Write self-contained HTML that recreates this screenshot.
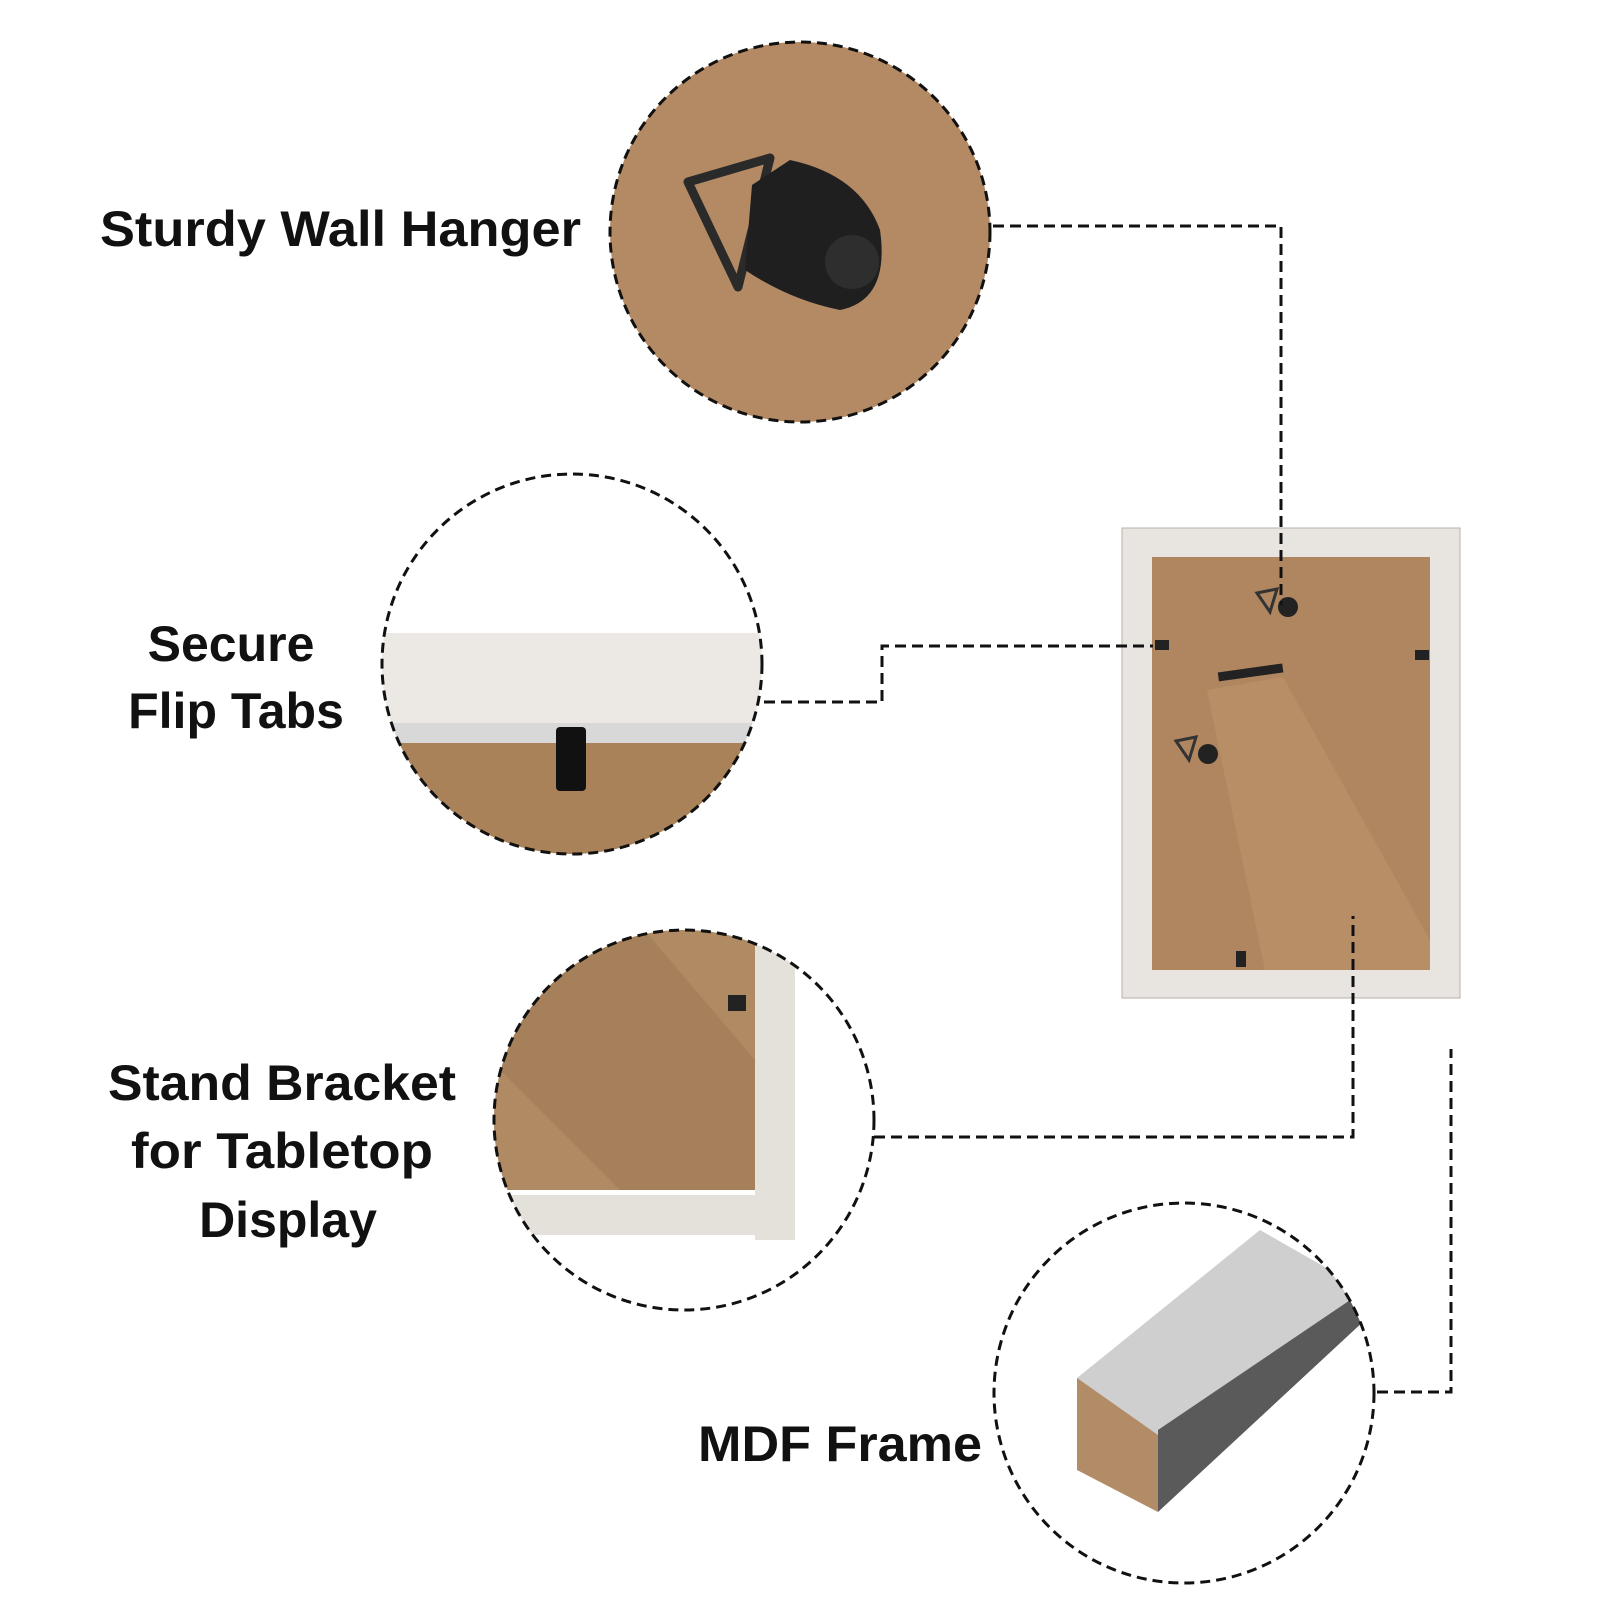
<!DOCTYPE html>
<html><head><style>html,body{margin:0;padding:0;background:#fff}svg{display:block}</style></head>
<body>
<svg width="1601" height="1601" viewBox="0 0 1601 1601" xmlns="http://www.w3.org/2000/svg">
<defs>
<clipPath id="c1"><circle cx="800" cy="232" r="190"/></clipPath>
<clipPath id="c2"><circle cx="572" cy="664" r="190"/></clipPath>
<clipPath id="c3"><circle cx="684" cy="1120" r="190"/></clipPath>
<clipPath id="c4"><circle cx="1184" cy="1393" r="190"/></clipPath>
</defs>
<!-- circle 1 -->
<g clip-path="url(#c1)">
<rect x="600" y="30" width="410" height="410" fill="#b38a63"/>
<path d="M688,182 L770,158 L738,287 Z" fill="none" stroke="#2a2a2a" stroke-width="9" stroke-linejoin="round"/>
<path d="M752,185 L790,160 Q860,175 880,230 Q890,300 840,310 Q790,300 745,270 Z" fill="#1f1f1f"/>
<circle cx="852" cy="262" r="27" fill="#2e2e2e"/>
</g>
<circle cx="800" cy="232" r="190" fill="none" stroke="#111" stroke-width="3" stroke-dasharray="10 6"/>
<!-- circle 2 -->
<g clip-path="url(#c2)">
<rect x="380" y="470" width="400" height="400" fill="#fff"/>
<rect x="380" y="633" width="400" height="90" fill="#ece9e4"/>
<rect x="380" y="723" width="400" height="20" fill="#d8d8d8"/>
<rect x="380" y="743" width="400" height="130" fill="#a98259"/>
<rect x="556" y="727" width="30" height="64" rx="4" fill="#111"/>
</g>
<circle cx="572" cy="664" r="190" fill="none" stroke="#111" stroke-width="3" stroke-dasharray="10 6"/>
<!-- circle 3 -->
<g clip-path="url(#c3)">
<rect x="490" y="925" width="400" height="400" fill="#fff"/>
<rect x="490" y="925" width="265" height="265" fill="#a6805a"/>
<path d="M640,925 L755,1060 L755,925 Z" fill="#b08a62"/>
<path d="M490,1060 L620,1190 L490,1190 Z" fill="#b08a62"/>
<rect x="755" y="940" width="40" height="300" fill="#e4e0da"/>
<rect x="490" y="1195" width="305" height="40" fill="#e4e0da"/>
<rect x="728" y="995" width="18" height="16" fill="#222"/>
</g>
<circle cx="684" cy="1120" r="190" fill="none" stroke="#111" stroke-width="3" stroke-dasharray="10 6"/>
<!-- circle 4 -->
<g clip-path="url(#c4)">
<path d="M1077,1378 L1260,1230 L1365,1290 L1158,1512 Z" fill="#cfcfcf"/>
<path d="M1158,1430 L1365,1290 L1365,1320 L1158,1512 Z" fill="#5a5a5a"/>
<path d="M1077,1378 L1158,1435 L1158,1512 L1077,1470 Z" fill="#b28c66"/>
</g>
<circle cx="1184" cy="1393" r="190" fill="none" stroke="#111" stroke-width="3" stroke-dasharray="10 6"/>
<!-- frame -->
<rect x="1122" y="528" width="338" height="470" fill="#e8e4df" stroke="#b9b3ab"/>
<rect x="1152" y="557" width="278" height="413" fill="#b08660"/>
<path d="M1207,690 L1283,677 L1430,940 L1430,970 L1265,970 Z" fill="#b88e66"/>
<rect x="1218" y="668" width="65" height="9" fill="#222" transform="rotate(-8 1250 672)"/>
<rect x="1155" y="640" width="14" height="10" fill="#222"/>
<rect x="1415" y="650" width="14" height="10" fill="#222"/>
<rect x="1236" y="951" width="10" height="16" fill="#222"/>
<circle cx="1288" cy="607" r="10" fill="#222"/><path d="M1257,593 L1277,589 L1270,612 Z" fill="none" stroke="#333" stroke-width="3"/>
<circle cx="1208" cy="754" r="10" fill="#222"/><path d="M1176,741 L1196,737 L1189,760 Z" fill="none" stroke="#333" stroke-width="3"/>
<g fill="none" stroke="#111" stroke-width="3" stroke-dasharray="11 6">
<polyline points="993,226 1281,226 1281,605"/>
<polyline points="764,702 882,702 882,646 1153,646"/>
<polyline points="874,1137 1353,1137 1353,916"/>
<polyline points="1377,1392 1451,1392 1451,1049"/>
</g>
<!-- labels -->
<g font-family="Liberation Sans, sans-serif" font-weight="bold" font-size="50" fill="#111">
<text x="100" y="246" textLength="481" lengthAdjust="spacingAndGlyphs">Sturdy Wall Hanger</text>
<text x="231" y="661" text-anchor="middle">Secure</text>
<text x="236" y="728" text-anchor="middle">Flip Tabs</text>
<text x="282" y="1100" text-anchor="middle" textLength="348" lengthAdjust="spacingAndGlyphs">Stand Bracket</text>
<text x="282" y="1168" text-anchor="middle" textLength="302" lengthAdjust="spacingAndGlyphs">for Tabletop</text>
<text x="288" y="1237" text-anchor="middle">Display</text>
<text x="698" y="1461" textLength="284" lengthAdjust="spacingAndGlyphs">MDF Frame</text>
</g>
</svg>
</body></html>
